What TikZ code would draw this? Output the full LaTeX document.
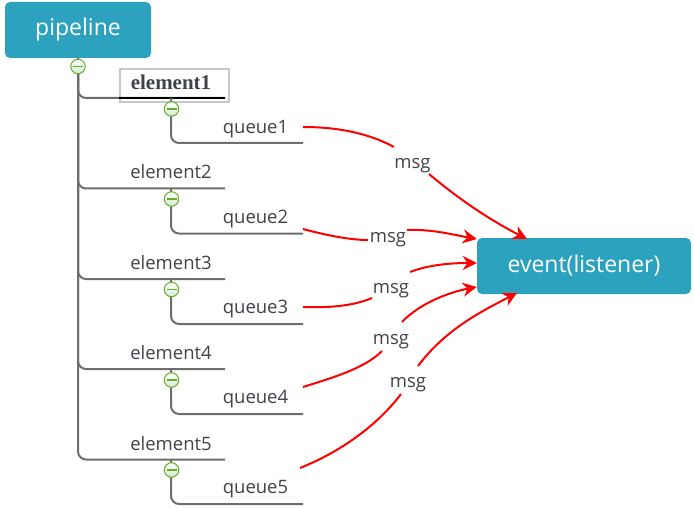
\documentclass[tikz,border=0pt]{standalone}
\usepackage{fontspec}
\setmainfont{Open Sans}
\newfontfamily\boldserif{Liberation Serif}
\usetikzlibrary{arrows.meta}
\definecolor{boxblue}{HTML}{2CA2BF}
\definecolor{branchgray}{HTML}{6E6E6E}
\definecolor{labelgray}{HTML}{3F4348}
\definecolor{togglegreen}{HTML}{66AD2A}
\tikzset{
  topic/.style={draw=none,fill=boxblue,rounded corners=5pt,text=white,font=\fontsize{23}{26}\selectfont},
  label/.style={text=labelgray,font=\fontsize{18.5}{21}\selectfont,inner sep=1pt},
  msg/.style={label,inner sep=0pt},
  branch/.style={draw=branchgray,line width=2pt,rounded corners=8pt},
  flow/.style={draw=red,line width=2pt},
  flowend/.style={flow,-{Stealth[length=14pt,width=14pt]}},
  toggle/.style={circle,draw=togglegreen,line width=1pt,minimum size=14.5pt,inner sep=0pt,
    top color=white,bottom color=green!35!gray!25,
    path picture={\draw [togglegreen,line width=1.2pt] ([xshift=-5pt]path picture bounding box.center) -- ([xshift=5pt]path picture bounding box.center);}}
}
\begin{document}
\begin{tikzpicture}[x=1pt,y=-1pt]
  \useasboundingbox (0,0) rectangle (694,508);
  % the two blue boxes
  \node [topic,minimum width=146pt,minimum height=56pt] (pipeline) at (78,30) {\raisebox{-2pt}{pipeline}};
  \node [topic,minimum width=214pt,minimum height=56pt] (event) at (584,266) {\raisebox{-2pt}{event(listener)}};
  % ends of the branch lines
  \coordinate (e1) at (225,98);
  \coordinate (e2) at (225,188.5);
  \coordinate (e3) at (225,279);
  \coordinate (e4) at (225,369);
  \coordinate (e5) at (225,459.5);
  \coordinate (q1) at (303,143);
  \coordinate (q2) at (303,233.5);
  \coordinate (q3) at (303,324);
  \coordinate (q4) at (303,414);
  \coordinate (q5) at (303,504);
  % selection frame behind element1
  \node [draw=black!22,line width=1.4pt,minimum width=109pt,minimum height=33pt,inner sep=0pt] (frame) at (174.5,85.5) {};
  % tree lines
  \draw [branch] (pipeline.south) -- (78,66) |- (e1);
  \draw [branch] (78,66) |- (e2);
  \draw [branch] (78,66) |- (e3);
  \draw [branch] (78,66) |- (e4);
  \draw [branch] (78,66) |- (e5);
  \draw [black,line width=2pt] (frame.west |- e1) -- (e1);
  \draw [branch] (171,98) |- (q1);
  \draw [branch] (171,188) |- (q2);
  \draw [branch] (171,279) |- (q3);
  \draw [branch] (171,369) |- (q4);
  \draw [branch] (171,459) |- (q5);
  % collapse buttons
  \node [toggle] (t0) at (78,66.5) {};
  \node [toggle] (t1) at (171.5,109) {};
  \node [toggle] (t2) at (171.5,199) {};
  \node [toggle] (t3) at (171.5,289.5) {};
  \node [toggle] (t4) at (171.5,380) {};
  \node [toggle] (t5) at (171.5,470) {};
  % labels
  \node [text=labelgray,font=\boldserif\bfseries\fontsize{21}{24}\selectfont,inner sep=1pt] (element1) at (171,82) {element1};
  \node [label] (element2) at (171,172) {element2};
  \node [label] (element3) at (171,262.5) {element3};
  \node [label] (element4) at (171,352.5) {element4};
  \node [label] (element5) at (171,443.5) {element5};
  \node [label] (queue1) at (255.5,129) {queue1};
  \node [label] (queue2) at (255.5,219) {queue2};
  \node [label] (queue3) at (255.5,309) {queue3};
  \node [label] (queue4) at (255.5,399) {queue4};
  \node [label] (queue5) at (255.5,489.5) {queue5};
  \node [msg] (msg1) at (412.5,166) {msg};
  \node [msg] (msg2) at (388,240) {msg};
  \node [msg] (msg3) at (391,291) {msg};
  \node [msg] (msg4) at (391,342) {msg};
  \node [msg] (msg5) at (408,385) {msg};
  % red flows, each one broken around its msg label
  \coordinate (s1) at (303,127);
  \coordinate (a1) at (394,147);
  \coordinate (b1) at (429,174);
  \coordinate (tip1) at (527,239);
  \coordinate (s2) at (303,229);
  \coordinate (a2) at (368,240);
  \coordinate (b2) at (407,230);
  \coordinate (s3) at (303,307);
  \coordinate (a3) at (372,298);
  \coordinate (b3) at (410,272);
  \coordinate (s4) at (303,387);
  \coordinate (a4) at (382,351);
  \coordinate (b4) at (402,322);
  \coordinate (s5) at (300,468);
  \coordinate (a5) at (401,394);
  \coordinate (b5) at (418,366);
  \coordinate (tip5) at (517,293);
  \draw [flow] (s1) .. controls (340,127) and (370,134) .. (a1);
  \draw [flowend] (b1) .. controls (460,200) and (490,220) .. (tip1);
  \draw [flow] (s2) .. controls (325,235) and (350,240) .. (a2);
  \draw [flowend] (b2) .. controls (430,229) and (450,234) .. (event.west |- 0,239);
  \draw [flow] (s3) .. controls (335,308) and (355,305) .. (a3);
  \draw [flowend] (b3) .. controls (428,265) and (450,263) .. (event.west |- 0,263);
  \draw [flow] (s4) .. controls (335,377) and (365,368) .. (a4);
  \draw [flowend] (b4) .. controls (420,303) and (450,292) .. (event.west |- 0,287);
  \draw [flow] (s5) .. controls (345,450) and (380,422) .. (a5);
  \draw [flowend] (b5) .. controls (445,330) and (480,312) .. (tip5);
\end{tikzpicture}
\end{document}
